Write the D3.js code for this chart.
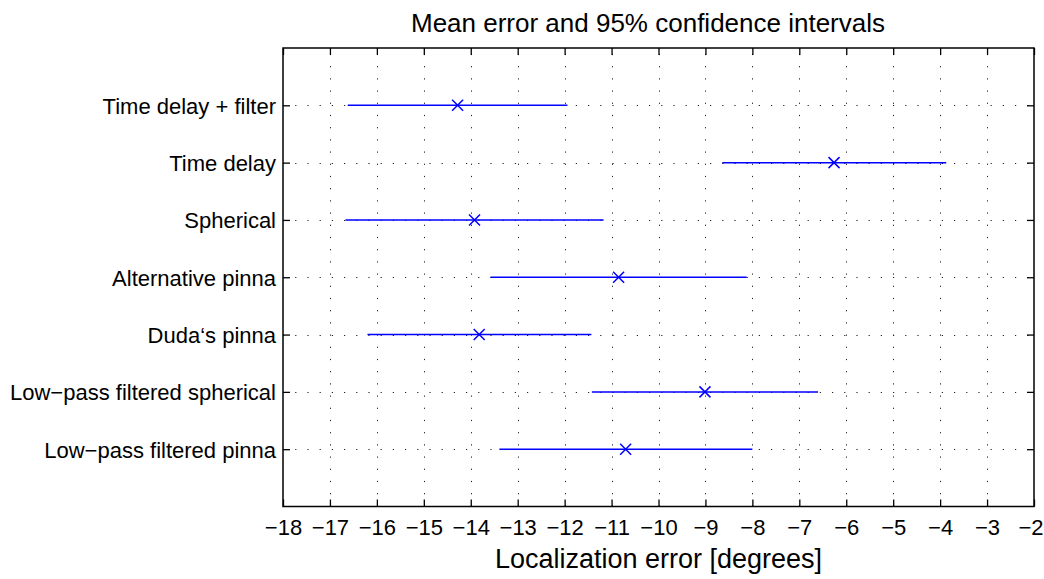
<!DOCTYPE html>
<html>
<head>
<meta charset="utf-8">
<script src="https://cdn.jsdelivr.net/npm/d3@7"></script>
<style>
  html, body { margin: 0; padding: 0; background: #fff; }
  svg { display: block; font-family: "Liberation Sans", Arial, Helvetica, sans-serif; }
</style>
</head>
<body>
<svg id="chart" width="1044" height="579"></svg>
<script>
// Conditions, top to bottom
const conditions = [
  "Time delay + filter",
  "Time delay",
  "Spherical",
  "Alternative pinna",
  "Duda\u2018s pinna",
  "Low\u2212pass filtered spherical",
  "Low\u2212pass filtered pinna"
];
// Mean localization error (degrees)
const meanError = [-14.28, -6.26, -13.92, -10.85, -13.82, -9.01, -10.70];
// 95% confidence interval bounds
const ciLower = [-16.62, -8.64, -16.67, -13.58, -16.20, -11.42, -13.39];
const ciUpper = [-11.94, -3.87, -11.17, -8.12, -11.43, -6.60, -8.00];
// X axis ticks
const xTicks = d3.range(-18, -1, 1);

const W = 1044, H = 579;
const margin = { left: 283, right: 10, top: 48, bottom: 72.5 };
const x0 = margin.left, x1 = W - margin.right;
const y0 = margin.top, y1 = H - margin.bottom;

const svg = d3.select("#chart");

const x = d3.scaleLinear().domain([-18, -2]).range([x0, x1]);
const y = d3.scaleLinear().domain([0, conditions.length + 1]).range([y0, y1]);
const rowY = (i) => y(i + 1);

// Dotted grid
const grid = svg.append("g").attr("stroke", "#222").attr("stroke-width", 1)
  .attr("stroke-dasharray", "1.2 11").attr("fill", "none");
grid.selectAll("line.vg")
  .data(xTicks.filter(t => t > -18 && t < -2))
  .join("line").attr("class", "vg")
  .attr("x1", d => Math.round(x(d)) + 0.5).attr("x2", d => Math.round(x(d)) + 0.5)
  .attr("y1", y1).attr("y2", y0);
grid.selectAll("line.hg")
  .data(conditions)
  .join("line").attr("class", "hg")
  .attr("x1", x0).attr("x2", x1)
  .attr("y1", (d, i) => Math.round(rowY(i)) + 0.5)
  .attr("y2", (d, i) => Math.round(rowY(i)) + 0.5);

// Bottom axis with inward ticks
const xAxis = d3.axisBottom(x).tickValues(xTicks).tickSize(-7).tickPadding(18)
  .tickFormat(d3.format("d"));
const gx = svg.append("g").attr("transform", `translate(0,${y1})`).call(xAxis);
gx.select(".domain").remove();
gx.selectAll(".tick line").attr("stroke", "#000").attr("stroke-width", 1.3);
gx.selectAll(".tick text").attr("font-size", 22).attr("fill", "#000")
  .attr("dy", "0.71em").attr("y", 12.5);
// keep the last label inside the canvas
gx.selectAll(".tick text").filter(d => d === -2)
  .attr("text-anchor", "end").attr("x", 9);

// Top axis ticks (no labels)
const gxTop = svg.append("g").attr("transform", `translate(0,${y0})`)
  .call(d3.axisTop(x).tickValues(xTicks).tickSize(-7).tickFormat(""));
gxTop.select(".domain").remove();
gxTop.selectAll(".tick line").attr("stroke", "#000").attr("stroke-width", 1.3);

// Left axis with condition labels
const yAxis = d3.axisLeft(y).tickValues(d3.range(1, conditions.length + 1))
  .tickSize(-7).tickPadding(7).tickFormat(d => conditions[d - 1]);
const gy = svg.append("g").attr("transform", `translate(${x0},0)`).call(yAxis);
gy.select(".domain").remove();
gy.selectAll(".tick line").attr("stroke", "#000").attr("stroke-width", 1.3);
gy.selectAll(".tick text").attr("font-size", 22).attr("fill", "#000")
  .attr("x", -7).attr("dy", "0.36em");

// Right axis ticks (no labels)
const gyR = svg.append("g").attr("transform", `translate(${x1},0)`)
  .call(d3.axisRight(y).tickValues(d3.range(1, conditions.length + 1)).tickSize(-7).tickFormat(""));
gyR.select(".domain").remove();
gyR.selectAll(".tick line").attr("stroke", "#000").attr("stroke-width", 1.3);

// Plot frame
svg.append("rect")
  .attr("x", x0).attr("y", y0).attr("width", x1 - x0).attr("height", y1 - y0)
  .attr("fill", "none").attr("stroke", "#000").attr("stroke-width", 1.5);

// Confidence interval lines
const marks = svg.append("g").attr("stroke", "#0000ff").attr("fill", "none");
marks.selectAll("line.ci")
  .data(conditions)
  .join("line").attr("class", "ci")
  .attr("x1", (d, i) => x(ciLower[i])).attr("x2", (d, i) => x(ciUpper[i]))
  .attr("y1", (d, i) => rowY(i)).attr("y2", (d, i) => rowY(i))
  .attr("stroke-width", 1.5);

// Mean markers (x)
const s = 5.5;
marks.selectAll("path.mean")
  .data(conditions)
  .join("path").attr("class", "mean")
  .attr("d", (d, i) => {
    const cx = x(meanError[i]), cy = rowY(i);
    return `M${cx - s},${cy - s}L${cx + s},${cy + s}M${cx - s},${cy + s}L${cx + s},${cy - s}`;
  })
  .attr("stroke-width", 1.5);

// Title
svg.append("text")
  .attr("x", 648).attr("y", 32)
  .attr("text-anchor", "middle").attr("font-size", 26).attr("fill", "#000")
  .text("Mean error and 95% confidence intervals");

// X axis label
svg.append("text")
  .attr("x", (x0 + x1) / 2).attr("y", 568)
  .attr("text-anchor", "middle").attr("font-size", 27).attr("fill", "#000")
  .text("Localization error [degrees]");
</script>
</body>
</html>
